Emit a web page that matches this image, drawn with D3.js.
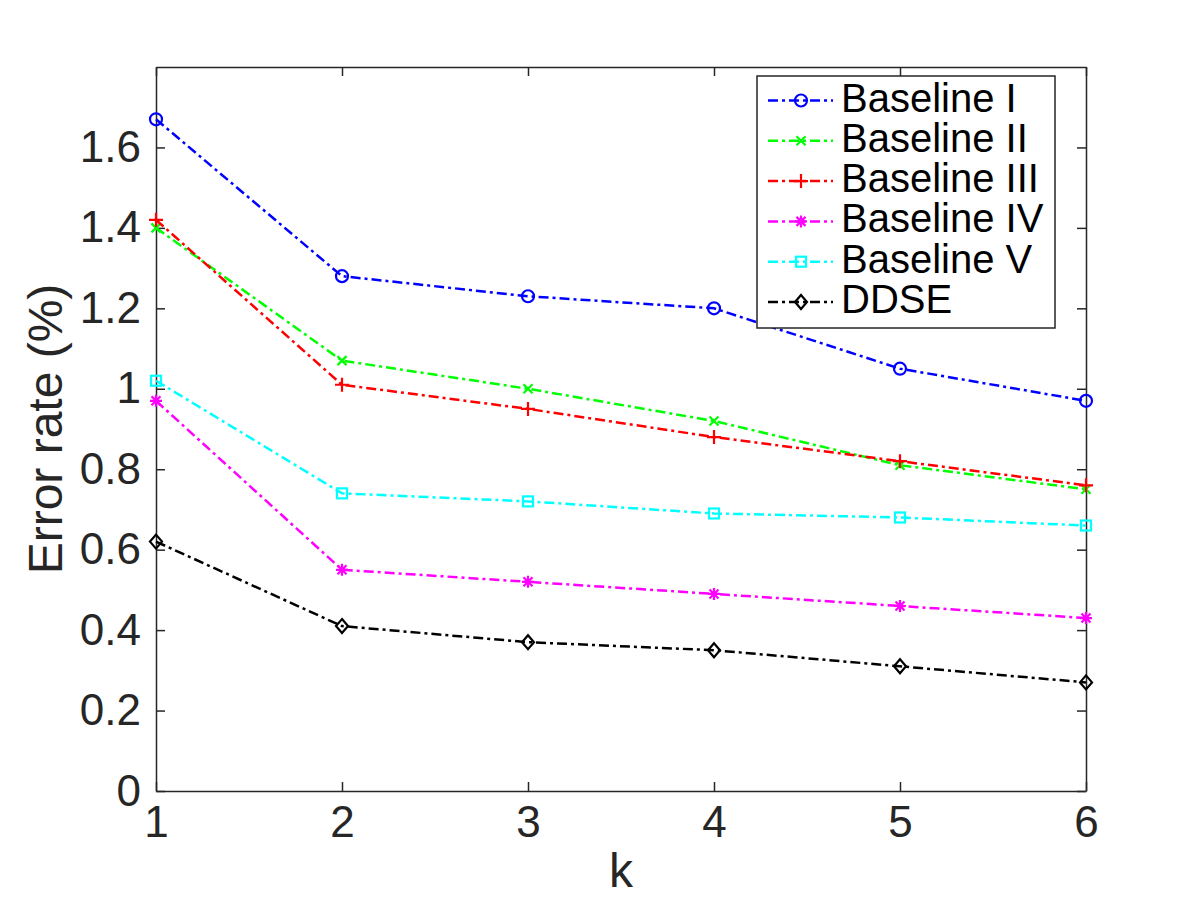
<!DOCTYPE html>
<html>
<head>
<meta charset="utf-8">
<script src="https://cdn.jsdelivr.net/npm/d3@7"></script>
<style>
  body { margin: 0; background: #fff; }
  svg { font-family: "Liberation Sans", Arial, Helvetica, sans-serif; }
</style>
</head>
<body>
<script>
// data
const kValues = [1, 2, 3, 4, 5, 6];
const yTicks = [0, 0.2, 0.4, 0.6, 0.8, 1, 1.2, 1.4, 1.6];
const seriesNames = ["Baseline I", "Baseline II", "Baseline III", "Baseline IV", "Baseline V", "DDSE"];
const baseline1 = [1.67, 1.28, 1.23, 1.20, 1.05, 0.97];
const baseline2 = [1.40, 1.07, 1.00, 0.92, 0.81, 0.75];
const baseline3 = [1.42, 1.01, 0.95, 0.88, 0.82, 0.76];
const baseline4 = [0.97, 0.55, 0.52, 0.49, 0.46, 0.43];
const baseline5 = [1.02, 0.74, 0.72, 0.69, 0.68, 0.66];
const ddse      = [0.62, 0.41, 0.37, 0.35, 0.31, 0.27];

const allValues = [baseline1, baseline2, baseline3, baseline4, baseline5, ddse];
const colors  = ["#0000ff", "#00ff00", "#ff0000", "#ff00ff", "#00ffff", "#000000"];
const markers = ["circle", "x", "plus", "star", "square", "diamond"];

const series = seriesNames.map((name, i) => ({
  name, color: colors[i], marker: markers[i],
  values: kValues.map((k, j) => ({ k, v: allValues[i][j] }))
}));

const margin = { top: 67, right: 114, bottom: 109, left: 156 },
      W = 1200, H = 900,
      width = W - margin.left - margin.right,
      height = H - margin.top - margin.bottom;

const svg = d3.select("body").append("svg").attr("width", W).attr("height", H);
const g = svg.append("g").attr("transform", `translate(${margin.left},${margin.top})`);

const x = d3.scaleLinear().domain([1, 6]).range([0, width]);
const y = d3.scaleLinear().domain([0, 1.8]).range([height, 0]);

const axisColor = "#262626";
const fmt = d => String(+d.toFixed(1));

function styleAxis(sel) {
  sel.select(".domain").attr("stroke", axisColor).attr("stroke-width", 1.5);
  sel.selectAll(".tick line").attr("stroke", axisColor).attr("stroke-width", 1.5);
  sel.selectAll(".tick text").attr("fill", axisColor).style("font-size", "44px");
}

g.append("g").attr("transform", `translate(0,${height})`)
  .call(d3.axisBottom(x).tickValues(kValues).tickFormat(d3.format("d")).tickSize(-9).tickSizeOuter(0).tickPadding(15))
  .call(styleAxis);
g.append("g")
  .call(d3.axisTop(x).tickValues(kValues).tickFormat("").tickSize(-9).tickSizeOuter(0))
  .call(styleAxis);
g.append("g")
  .call(d3.axisLeft(y).tickValues(yTicks).tickFormat(fmt).tickSize(-9).tickSizeOuter(0).tickPadding(15))
  .call(styleAxis);
g.append("g").attr("transform", `translate(${width},0)`)
  .call(d3.axisRight(y).tickValues(yTicks).tickFormat("").tickSize(-9).tickSizeOuter(0))
  .call(styleAxis);

// axis labels
svg.append("text")
  .attr("transform", `translate(62,${margin.top + height / 2}) rotate(-90)`)
  .attr("text-anchor", "middle").attr("fill", axisColor)
  .style("font-size", "48px").text("Error rate (%)");
svg.append("text")
  .attr("x", margin.left + width / 2).attr("y", 887)
  .attr("text-anchor", "middle").attr("fill", axisColor)
  .style("font-size", "48px").text("k");

const dash = "10,4,3,4";
const line = d3.line().x(d => x(d.k)).y(d => y(d.v));

function drawMarker(sel, type, color) {
  sel.attr("fill", "none").attr("stroke", color).attr("stroke-width", 2.2);
  if (type === "circle") sel.append("circle").attr("r", 6);
  else if (type === "square") sel.append("rect").attr("x", -5).attr("y", -5).attr("width", 10).attr("height", 10);
  else if (type === "diamond") sel.append("path").attr("d", "M0,-7L6,0L0,7L-6,0Z");
  else if (type === "plus") sel.append("path").attr("d", "M-7,0H7M0,-7V7");
  else if (type === "x") sel.append("path").attr("d", "M-4.5,-4.5L4.5,4.5M-4.5,4.5L4.5,-4.5");
  else if (type === "star") sel.append("path").attr("d", "M-6,0H6M0,-6V6M-4.5,-4.5L4.5,4.5M-4.5,4.5L4.5,-4.5");
}

const sg = g.selectAll(".series").data(series).join("g").attr("class", "series");
sg.append("path")
  .attr("d", d => line(d.values))
  .attr("fill", "none").attr("stroke", d => d.color)
  .attr("stroke-width", 2.5).attr("stroke-dasharray", dash);
sg.each(function(s) {
  d3.select(this).selectAll(".mk").data(s.values).join("g").attr("class", "mk")
    .attr("transform", d => `translate(${x(d.k)},${y(d.v)})`)
    .each(function() { drawMarker(d3.select(this), s.marker, s.color); });
});

// legend
const legend = svg.append("g").attr("transform", "translate(757,76)");
legend.append("rect").attr("width", 298).attr("height", 252)
  .attr("fill", "#fff").attr("stroke", axisColor).attr("stroke-width", 1.5);
const rows = legend.selectAll(".row").data(series).join("g").attr("class", "row")
  .attr("transform", (d, i) => `translate(0,${24.5 + i * 40.3})`);
rows.append("line").attr("x1", 11).attr("x2", 76)
  .attr("stroke", d => d.color).attr("stroke-width", 2.5).attr("stroke-dasharray", dash);
rows.append("g").attr("transform", "translate(44,0)")
  .each(function(d) { drawMarker(d3.select(this), d.marker, d.color); });
rows.append("text").attr("x", 84).attr("y", 11).attr("fill", "#000")
  .style("font-size", "40px").text(d => d.name);
</script>
</body>
</html>
